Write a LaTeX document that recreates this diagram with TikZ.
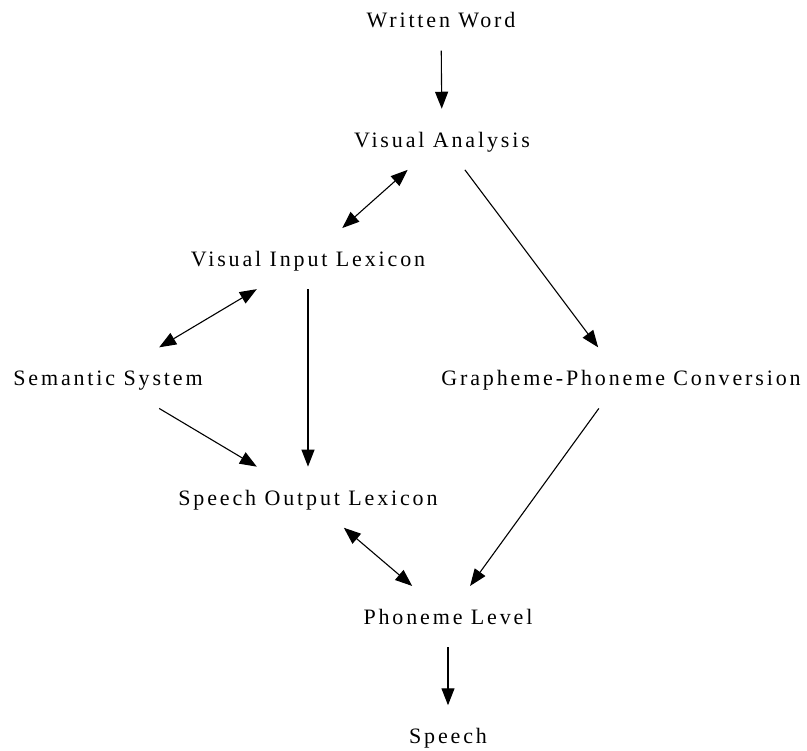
\documentclass[tikz,border=0pt]{standalone}
\usepackage{fontspec}
\setmainfont[LetterSpace=13]{Liberation Serif}
\usetikzlibrary{arrows.meta,positioning}

\begin{document}
\begin{tikzpicture}[
                    x = 1pt, y = 1pt,
                    ->,
                    >={Triangle[length=17pt, width=13pt]},
                    line width = 1.1pt,
                    node distance = 119.3pt,
                    stage/.style = {draw = none, inner sep = 0pt, minimum height = 60pt,
                                    text height = 18pt, text depth = 2pt,
                                    font = \fontsize{22}{26}\selectfont}]
                \useasboundingbox (0,0) rectangle (807,-751);
                \node[stage] at (441,-20)                      (ww)  {Written Word};
                \node[stage, below of = ww, xshift = 1pt]     (va)  {Visual Analysis};
                \node[stage, below of = va, xshift = -134pt]  (vil) {Visual Input Lexicon};
                \node[stage, below of = vil, xshift = -200pt] (sem) {Semantic System};
                \node[stage, right of = sem, node distance = 513pt] (gpc) {Grapheme-Phoneme Conversion};
                \node[stage, below of = sem, xshift = 200pt]  (sol) {Speech Output Lexicon};
                \node[stage, below of = sol, xshift = 140pt]  (pl)  {Phoneme Level};
                \node[stage, below of = pl]                   (sp)  {Speech};
                \path[]
                (ww)  edge        (va)
                (va)  edge [<->]  (vil)
                (va)  edge        (gpc)
                (vil) edge [<->]  (sem)
                (vil) edge        (sol)
                (sem) edge        (sol)
                (gpc) edge        (pl)
                (sol) edge [<->]  (pl)
                (pl)  edge        (sp)
                ;
\end{tikzpicture}
\end{document}
